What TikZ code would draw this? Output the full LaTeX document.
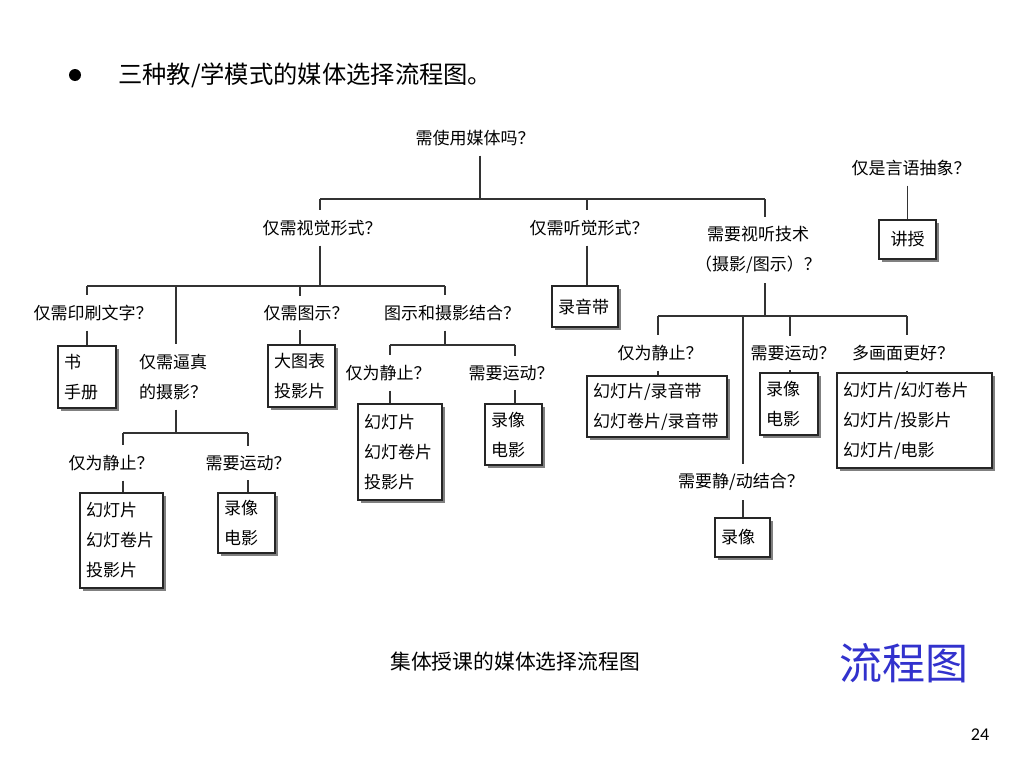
\documentclass[tikz,border=0pt]{standalone}
\usepackage{fontspec}
\newfontfamily\cjk{Noto Sans CJK SC}
\newfontfamily\pgnum{Carlito}
\usetikzlibrary{shadows}
\definecolor{ttlblue}{RGB}{50,50,205}
\begin{document}
\begin{tikzpicture}[x=1pt,y=-1pt,
  lab/.style={font=\cjk\fontsize{17}{30}\selectfont, text=black, inner xsep=0pt, inner ysep=9.5pt, align=center},
  box/.style={draw=black!85, line width=1.2pt, fill=white, font=\cjk\fontsize{17}{30}\selectfont, text=black, inner xsep=6pt, inner ysep=0pt, align=left,
    general shadow={fill=black!50, shadow xshift=3pt, shadow yshift=-3pt}},
  ln/.style={draw=black!80, line width=1.2pt}]
\useasboundingbox[fill=white] (0,0) rectangle (1024,768);

% title
\fill[black] (75,75) circle (6);
\node[font=\cjk\fontsize{24.3}{28}\selectfont, anchor=west, inner sep=0pt] (title) at (118,75) {三种教/学模式的媒体选择流程图。};

% labels
\node[lab] (root) at (475,138) {需使用媒体吗？};
\node[lab] (vis) at (322,228) {仅需视觉形式？};
\node[lab] (aud) at (589,228) {仅需听觉形式？};
\node[lab] (av) at (758,250) {需要视听技术\\（摄影/图示）？};
\node[lab] (verbal) at (911,168) {仅是言语抽象？};
\node[lab] (print) at (93,313) {仅需印刷文字？};
\node[lab] (pic) at (306,313) {仅需图示？};
\node[lab] (combo) at (452,313) {图示和摄影结合？};
\node[lab, align=left, anchor=west] (real) at (139,377) {仅需逼真\\的摄影？};
\node[lab] (still1) at (111,463) {仅为静止？};
\node[lab] (motion1) at (248,463) {需要运动？};
\node[lab] (still2) at (388,373) {仅为静止？};
\node[lab] (motion2) at (511,373) {需要运动？};
\node[lab] (still3) at (660,353) {仅为静止？};
\node[lab] (motion3) at (793,353) {需要运动？};
\node[lab] (multi) at (903,353) {多画面更好？};
\node[lab] (mixed) at (741,482) {需要静/动结合？};

% boxes
\node[box, align=center, minimum width=57pt, minimum height=39pt, text width=45pt] (lecture) at (907.5,239.5) {讲授};
\node[box, minimum width=66pt, minimum height=41pt, text width=54pt] (tape) at (585,306.5) {录音带};
\node[box, minimum width=58pt, minimum height=62pt, text width=46pt] (book) at (87,377) {书\\手册};
\node[box, minimum width=67pt, minimum height=62pt, text width=55pt] (chart) at (301.5,376) {大图表\\投影片};
\node[box, minimum width=83pt, minimum height=95pt, text width=71pt] (slides1) at (121.5,540.5) {幻灯片\\幻灯卷片\\投影片};
\node[box, minimum width=57pt, minimum height=60pt, text width=45pt] (video1) at (246.5,523) {录像\\电影};
\node[box, minimum width=84pt, minimum height=96pt, text width=72pt] (slides2) at (400,452) {幻灯片\\幻灯卷片\\投影片};
\node[box, minimum width=57pt, minimum height=61pt, text width=45pt] (video2) at (513.5,434.5) {录像\\电影};
\node[box, minimum width=140pt, minimum height=61pt, text width=128pt] (slidetape) at (657,406.5) {幻灯片/录音带\\幻灯卷片/录音带};
\node[box, minimum width=58pt, minimum height=62pt, text width=46pt] (video3) at (789,404) {录像\\电影};
\node[box, minimum width=155pt, minimum height=95pt, text width=143pt] (multibox) at (914.5,420.5) {幻灯片/幻灯卷片\\幻灯片/投影片\\幻灯片/电影};
\node[box, minimum width=55pt, minimum height=39pt, text width=43pt] (video4) at (742.5,537.5) {录像};

% junction coordinates
\coordinate (jroot) at (480,199);
\coordinate (dvis) at (320,199);
\coordinate (daud) at (587,199);
\coordinate (dav) at (765,199);
\coordinate (jvis) at (320,286);
\coordinate (dprint) at (87,286);
\coordinate (dreal) at (176,286);
\coordinate (dpic) at (300,286);
\coordinate (dcombo) at (445,286);
\coordinate (jav) at (765,316);
\coordinate (dstill3) at (658,316);
\coordinate (dmixed) at (743,316);
\coordinate (dmotion3) at (790,316);
\coordinate (dmulti) at (907,316);
\coordinate (jcombo) at (445,345);
\coordinate (dstill2) at (390,345);
\coordinate (dmotion2) at (515,345);
\coordinate (jreal) at (176,433);
\coordinate (dstill1) at (123,433);
\coordinate (dmotion1) at (248,433);

% level 1
\draw[ln] (root.south -| jroot) -- (jroot);
\draw[ln] (dvis) -- (dav);
\draw[ln] (dvis) -- (vis.north -| dvis);
\draw[ln] (daud) -- (aud.north -| daud);
\draw[ln] (dav) -- (av.north -| dav);
\draw[ln] (aud.south -| daud) -- (tape.north -| daud);
\draw[ln] (verbal.south -| lecture.north) -- (lecture.north);

% visual branch
\draw[ln] (vis.south -| jvis) -- (jvis);
\draw[ln] (dprint) -- (dcombo);
\draw[ln] (dprint) -- (print.north -| dprint);
\draw[ln] (dreal) -- (real.north -| dreal);
\draw[ln] (dpic) -- (pic.north -| dpic);
\draw[ln] (dcombo) -- (combo.north -| dcombo);
\draw[ln] (print.south -| dprint) -- (book.north -| dprint);
\draw[ln] (pic.south -| dpic) -- (chart.north -| dpic);

% combo branch
\draw[ln] (combo.south -| jcombo) -- (jcombo);
\draw[ln] (dstill2) -- (dmotion2);
\draw[ln] (dstill2) -- (still2.north -| dstill2);
\draw[ln] (dmotion2) -- (motion2.north -| dmotion2);
\draw[ln] (still2.south -| dstill2) -- (slides2.north -| dstill2);
\draw[ln] (motion2.south -| dmotion2) -- (video2.north -| dmotion2);

% realistic branch
\draw[ln] (real.south -| jreal) -- (jreal);
\draw[ln] (dstill1) -- (dmotion1);
\draw[ln] (dstill1) -- (still1.north -| dstill1);
\draw[ln] (dmotion1) -- (motion1.north -| dmotion1);
\draw[ln] (still1.south -| dstill1) -- (slides1.north -| dstill1);
\draw[ln] (motion1.south -| dmotion1) -- (video1.north -| dmotion1);

% audiovisual branch
\draw[ln] (av.south -| jav) -- (jav);
\draw[ln] (dstill3) -- (dmulti);
\draw[ln] (dstill3) -- (still3.north -| dstill3);
\draw[ln] (dmixed) -- (mixed.north -| dmixed);
\draw[ln] (dmotion3) -- (motion3.north -| dmotion3);
\draw[ln] (dmulti) -- (multi.north -| dmulti);
\draw[ln] (still3.south -| dstill3) -- (slidetape.north -| dstill3);
\draw[ln] (motion3.south -| dmotion3) -- (video3.north -| dmotion3);
\draw[ln] (multi.south -| dmulti) -- (multibox.north -| dmulti);
\draw[ln] (mixed.south -| dmixed) -- (video4.north -| dmixed);

% captions
\node[font=\cjk\fontsize{20.8}{24}\selectfont, inner sep=0pt] (caption) at (515,662) {集体授课的媒体选择流程图};
\node[font=\cjk\fontsize{43}{48}\selectfont, text=ttlblue, inner sep=0pt] (flow) at (904,663) {流程图};
\node[font=\pgnum\fontsize{18}{20}\selectfont, inner sep=0pt] (pnum) at (980,735) {24};
\end{tikzpicture}
\end{document}
